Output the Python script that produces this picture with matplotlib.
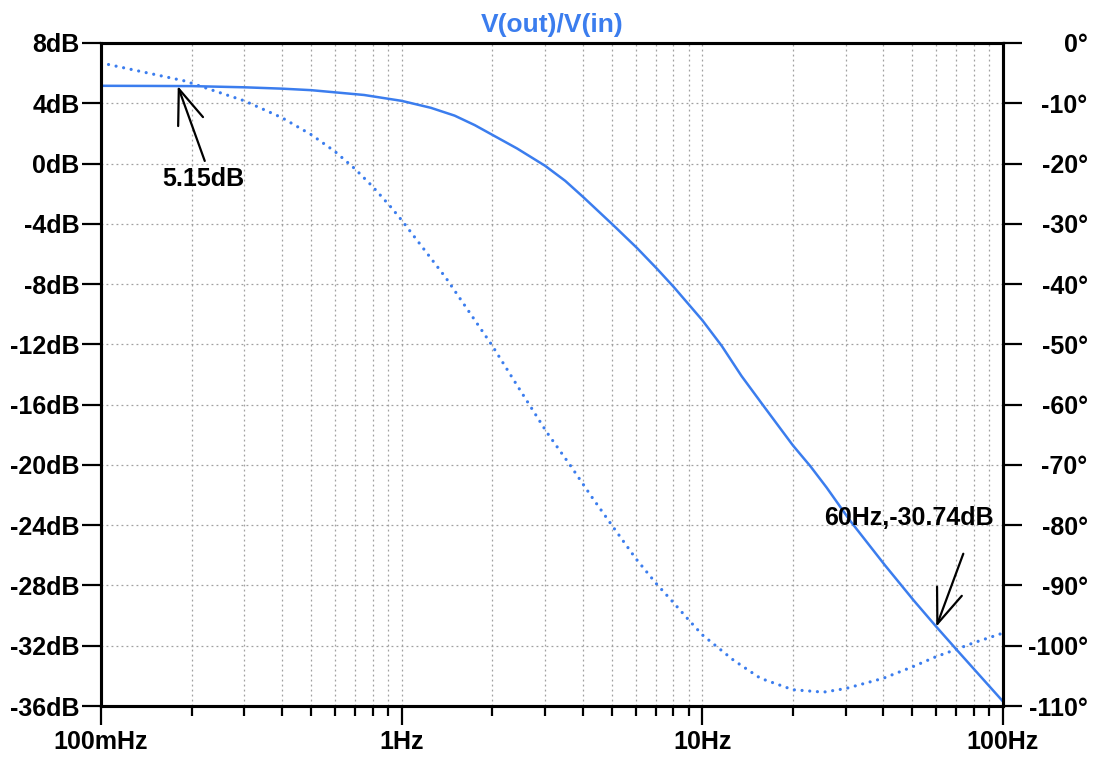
import numpy as np
import matplotlib
matplotlib.use('Agg')
import matplotlib.pyplot as plt
from matplotlib.ticker import LogLocator, NullFormatter, FixedLocator

plt.rcParams['font.family'] = ['Liberation Sans', 'DejaVu Sans']
plt.rcParams['font.weight'] = 'bold'

# magnitude curve V(out)/V(in)
mag_freq = [0.1, 0.15, 0.2, 0.3, 0.4, 0.5, 0.75, 1.0, 1.25, 1.5, 1.75, 2.03,
            2.42, 3.0, 3.5, 4.03, 5.08, 6.06, 7.08, 8.04, 10.0, 11.6, 13.5,
            16.0, 20.0, 22.9, 25.9, 31.0, 40.5, 50.5, 60.0, 70.0, 100.0]
mag_db = [5.16, 5.15, 5.14, 5.06, 4.97, 4.87, 4.55, 4.16, 3.7, 3.18, 2.55,
          1.84, 1.0, -0.15, -1.15, -2.25, -4.13, -5.6, -7.0, -8.2, -10.4,
          -12.1, -14.1, -16.1, -18.7, -20.1, -21.5, -23.7, -26.66, -29.0,
          -30.74, -32.25, -35.7]

# phase curve (degrees, right axis)
ph_freq = [0.1, 0.19, 0.3, 0.4, 0.5, 0.6, 0.7, 0.8, 0.92, 1.0, 1.4, 2.0, 2.42,
           3.04, 3.64, 4.3, 5.0, 6.0, 7.0, 8.0, 9.0, 10.0, 12.7, 15.6, 20.0,
           25.3, 30.0, 40.0, 50.0, 60.0, 70.0, 80.0, 100.0]
ph_deg = [-3.3, -6.3, -9.6, -12.4, -15.2, -18.0, -20.9, -23.8, -27.2, -29.4,
          -38.9, -50.2, -56.8, -64.6, -70.1, -75.4, -80.0, -85.5, -89.6, -92.8,
          -95.7, -98.2, -102.4, -105.4, -107.3, -107.7, -107.1, -105.4, -103.5,
          -101.8, -100.6, -99.5, -97.9]

x_ticks = [0.1, 1, 10, 100]
x_labels = ['100mHz', '1Hz', '10Hz', '100Hz']
db_ticks = list(range(8, -37, -4))
deg_ticks = list(range(0, -111, -10))

# cursor markers
mark1 = (0.18, 5.15)
mark1_text = '5.15dB'
mark2 = (60, -30.74)
mark2_text = '60Hz,-30.74dB'

blue = '#3b7dee'
fs = 18

fig = plt.figure(figsize=(10.94, 7.61), dpi=100)
ax = fig.add_axes([101/1094, 1 - 706/761, (1003 - 101)/1094, (706 - 43)/761])
ax2 = ax.twinx()

ax.plot(mag_freq, mag_db, color=blue, lw=1.8, solid_capstyle='round')
ax2.plot(ph_freq, ph_deg, color=blue, lw=2.3, linestyle=(0, (0.01, 2.4)),
         dash_capstyle='round')

ax.set_xscale('log')
ax.set_xlim(0.1, 100)
ax.set_ylim(-36, 8)
ax2.set_ylim(-110, 0)

ax.xaxis.set_major_locator(FixedLocator(x_ticks))
ax.set_xticklabels(x_labels)
ax.xaxis.set_minor_locator(LogLocator(base=10, subs=np.arange(2, 10)))
ax.xaxis.set_minor_formatter(NullFormatter())
ax.set_yticks(db_ticks)
ax.set_yticklabels([f'{v}dB' for v in db_ticks])
ax2.set_yticks(deg_ticks)
ax2.set_yticklabels([f'{v}°' for v in deg_ticks])

ax.grid(True, which='both', axis='x', color='#a0a0a0', lw=0.9, linestyle=(0, (1.5, 2.5)))
ax.grid(True, which='major', axis='y', color='#a0a0a0', lw=0.9, linestyle=(0, (1.5, 2.5)))

ax.tick_params(axis='x', which='major', length=14, width=1.6, direction='out',
               labelsize=fs, pad=3)
ax.tick_params(axis='x', which='minor', length=7, width=1.6, direction='out')
ax.tick_params(axis='y', length=14, width=1.6, labelsize=fs, pad=1.5)
ax2.tick_params(axis='y', length=14, width=1.6, labelsize=fs, pad=47)
for lbl in ax2.get_yticklabels():
    lbl.set_horizontalalignment('right')

for a in (ax, ax2):
    for s in a.spines.values():
        s.set_linewidth(2.2)

ax.set_title('V(out)/V(in)', color=blue, fontsize=19, fontweight='bold', pad=8)

arrow = dict(arrowstyle='->,head_length=25,head_width=9.5', color='black',
             lw=1.6, shrinkA=0, shrinkB=0, mutation_scale=1)
ax.annotate('', xy=mark1, xytext=(27, -75), textcoords='offset pixels',
            arrowprops=arrow)
ax.annotate(mark1_text, xy=mark1, xytext=(26, -93), textcoords='offset pixels',
            ha='center', va='center', fontsize=fs, fontweight='bold')
ax.annotate('', xy=mark2, xytext=(27, 73), textcoords='offset pixels',
            arrowprops=arrow)
ax.annotate(mark2_text, xy=mark2, xytext=(-27, 109), textcoords='offset pixels',
            ha='center', va='center', fontsize=fs, fontweight='bold')

fig.savefig('out.png', dpi=100)
